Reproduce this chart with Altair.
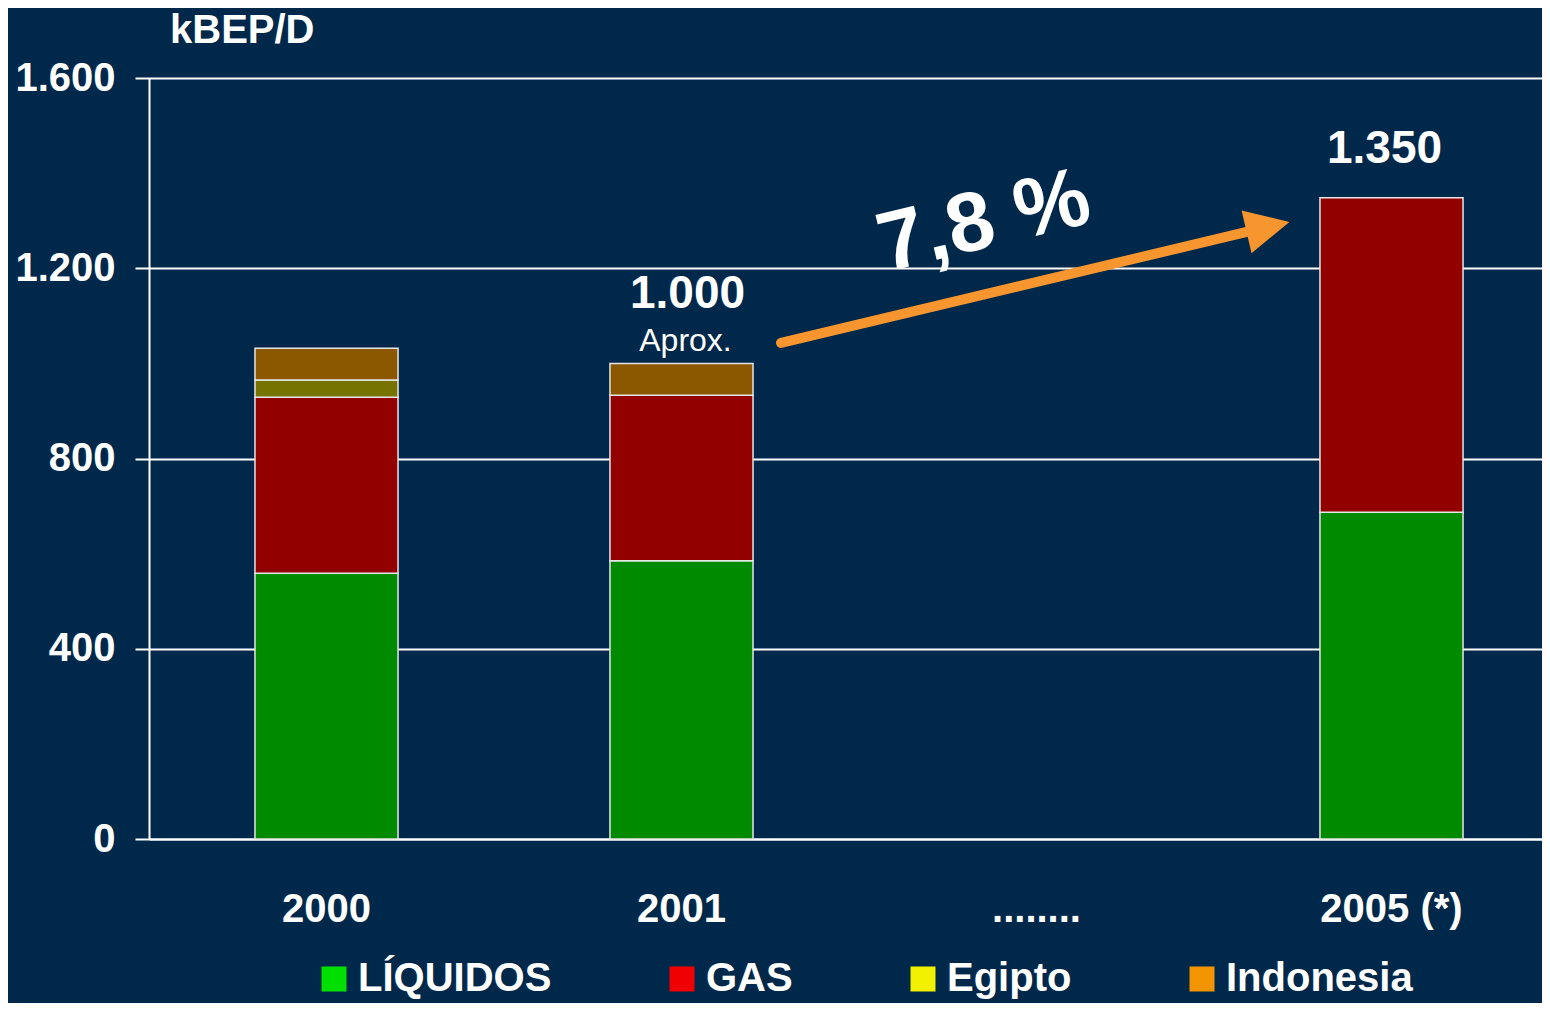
import altair as alt
import pandas as pd

# ---- data ----
years = ["2000", "2001", "........", "2005 (*)"]
series = ["LÍQUIDOS", "GAS", "Egipto", "Indonesia"]
liquidos = [559, 585, 0, 687]
gas = [370, 348, 0, 661]
egipto = [36, 0, 0, 0]
indonesia = [67, 67, 0, 0]
bar_colors = ["#008a00", "#930000", "#777300", "#8b5800"]
legend_colors = ["#00e000", "#f00000", "#f0f000", "#f39500"]
y_ticks = [0, 400, 800, 1200, 1600]

total_labels = ["1.000", "1.350"]
total_years = ["2001", "2005 (*)"]
total_y = [1116, 1421]
growth_label = "7,8 %"
unit_label = "kBEP/D"

FONT = "Liberation Sans"
BG = "#00284a"
ORANGE = "#f7962f"

rows = []
for i, yr in enumerate(years):
    for k, (s, vals) in enumerate(zip(series, [liquidos, gas, egipto, indonesia])):
        if vals[i] > 0:
            rows.append({"year": yr, "serie": s, "value": vals[i], "order": k})
df = pd.DataFrame(rows)

x_enc = alt.X(
    "year:N",
    sort=years,
    scale=alt.Scale(domain=years, range=[0, 1420], paddingInner=0.597, paddingOuter=0.2985),
    axis=alt.Axis(
        title=None, labelAngle=0, labelFont=FONT, labelFontSize=40, labelFontWeight="bold",
        labelColor="white", ticks=False, domainColor="white", domainWidth=2,
        labelPadding=50, grid=False,
    ),
)
y_scale = alt.Scale(domain=[0, 1600], nice=False)
y_enc = alt.Y(
    "value:Q",
    stack="zero",
    scale=y_scale,
    axis=alt.Axis(
        values=y_ticks, title=None,
        labelExpr="replace(format(datum.value, ','), ',', '.')",
        labelFont=FONT, labelFontSize=40, labelFontWeight="bold", labelColor="white",
        tickColor="white", tickSize=14, tickWidth=2,
        domainColor="white", domainWidth=2,
        grid=True, gridColor="white", gridWidth=2, labelPadding=20,
    ),
)

# bar colours keyed on the series index (a different domain than the legend scale,
# so Vega-Lite does not merge the hidden bar legend with the visible one)
bars = alt.Chart(df).mark_bar(stroke="#e6e6e6", strokeWidth=1.5).encode(
    x=x_enc,
    y=y_enc,
    fill=alt.Fill("order:N", scale=alt.Scale(domain=[0, 1, 2, 3], range=bar_colors), legend=None),
    order=alt.Order("order:Q", sort="ascending"),
)

# legend-only layer: no visible marks, explicit domain keeps all entries
legend_layer = alt.Chart(df).transform_filter(alt.datum.value < 0).mark_square(size=625, opacity=1).encode(
    x=alt.X("year:N", sort=years),
    y=alt.Y("value:Q"),
    color=alt.Color(
        "serie:N",
        scale=alt.Scale(domain=series, range=legend_colors),
        legend=alt.Legend(
            title=None, orient="none", legendX=165, legendY=881, direction="horizontal",
            symbolType="square", symbolSize=625, symbolStrokeWidth=0, symbolOpacity=1,
            labelFont=FONT, labelFontSize=40, labelFontWeight="bold", labelColor="white",
            labelOffset=4, columnPadding=110, padding=0, labelLimit=500,
        ),
    ),
)

tot_df = pd.DataFrame({"year": total_years, "label": total_labels, "y": total_y})

tot1 = alt.Chart(tot_df.iloc[[0]]).mark_text(
    font=FONT, fontSize=46, fontWeight="bold", color="white", baseline="alphabetic", dx=6
).encode(x=alt.X("year:N", sort=years), y=alt.Y("y:Q"), text="label:N")

tot2 = alt.Chart(tot_df.iloc[[1]]).mark_text(
    font=FONT, fontSize=46, fontWeight="bold", color="white", baseline="alphabetic", dx=-7
).encode(x=alt.X("year:N", sort=years), y=alt.Y("y:Q"), text="label:N")

aprox = alt.Chart(pd.DataFrame({"year": ["2001"], "label": ["Aprox."], "y": [1026]})).mark_text(
    font=FONT, fontSize=32, color="white", baseline="alphabetic", dx=4
).encode(x=alt.X("year:N", sort=years), y=alt.Y("y:Q"), text="label:N")

shaft = alt.Chart(pd.DataFrame({"y": [1043], "y2": [1278]})).mark_rule(
    color=ORANGE, strokeWidth=10, strokeCap="round"
).encode(x=alt.value(632), x2=alt.value(1101), y="y:Q", y2="y2:Q")

head = alt.Chart(pd.DataFrame({"y": [1287]})).mark_point(
    shape="M-1,-1L1,0L-1,1Z", size=1936, filled=True, color=ORANGE, opacity=1,
    strokeWidth=0, angle=347,
).encode(x=alt.value(1119), y="y:Q")

growth = alt.Chart(pd.DataFrame({"label": [growth_label], "y": [1245]})).mark_text(
    font=FONT, fontSize=84, fontWeight="bold", color="white", baseline="alphabetic",
    align="center", angle=346.5,
).encode(x=alt.value(841), y="y:Q", text="label:N")

unit = alt.Chart(pd.DataFrame({"label": [unit_label]})).mark_text(
    font=FONT, fontSize=40, fontWeight="bold", color="white", baseline="alphabetic", align="left"
).encode(x=alt.value(21), y=alt.value(-35), text="label:N")

chart = alt.layer(bars, legend_layer, tot1, tot2, aprox, shaft, head, growth, unit).properties(
    width=1393,
    height=761,
    autosize=alt.AutoSizeParams(type="none"),
    padding={"left": 141, "top": 70, "right": 0, "bottom": 164},
    background=BG,
).configure_view(stroke=None).configure(font=FONT)

chart.save("out.html", embed_options={"renderer": "svg", "actions": False})
